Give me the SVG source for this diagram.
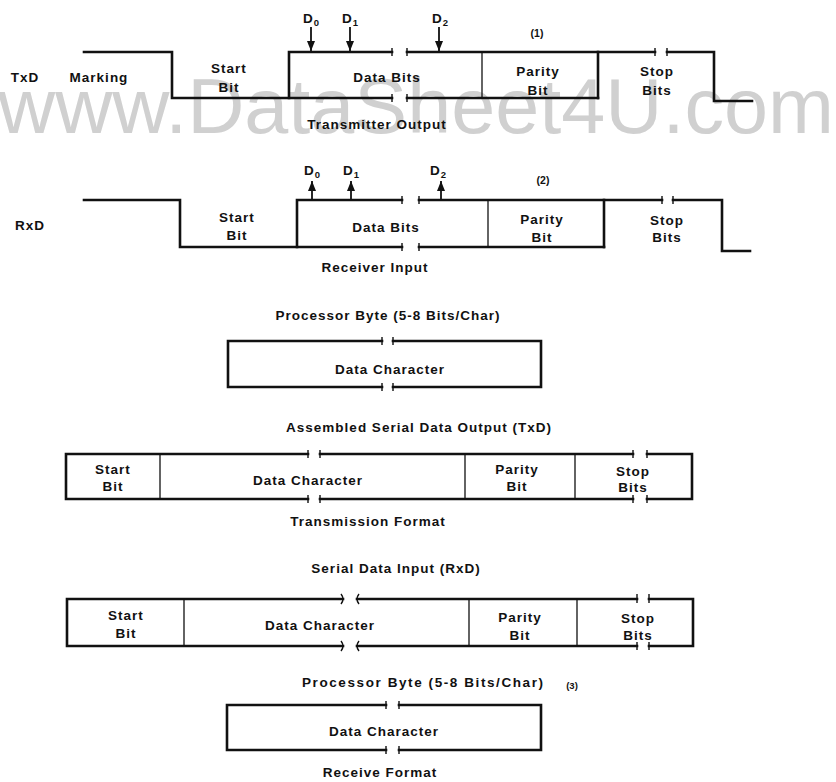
<svg xmlns="http://www.w3.org/2000/svg" width="836" height="782" viewBox="0 0 836 782">
<defs>
<style>
.t{font-family:"Liberation Sans",Arial,Helvetica,sans-serif;font-weight:bold;font-size:13.5px;letter-spacing:1px;fill:#111;text-anchor:middle}
.s{font-size:9.5px;letter-spacing:0}
.w{fill:none;stroke:#111;stroke-width:2.6;stroke-linejoin:miter;stroke-linecap:square}
.thin{fill:none;stroke:#111;stroke-width:1.3}
.tk{fill:none;stroke:#111;stroke-width:1.4}
.ar{fill:none;stroke:#111;stroke-width:1.8}
.wm{font-family:"Liberation Sans",Arial,sans-serif;font-size:78px;fill:#d0d0d0}
</style>
<marker id="ah" viewBox="0 0 10 8" refX="10" refY="4" markerWidth="5.6" markerHeight="4.5" orient="auto" markerUnits="strokeWidth">
<path d="M0,0 L10,4 L0,8 Z" fill="#111"/>
</marker>
</defs>
<rect width="836" height="782" fill="#fff"/>
<text class="wm" x="-2" y="133" textLength="836" lengthAdjust="spacingAndGlyphs">www.DataSheet4U.com</text>

<g id="txd-waveform">
<path class="w" d="M84,52 H172 V98 H392"/>
<path class="w" d="M407,98 H598"/>
<path class="w" d="M289,98 V52 H392"/>
<path class="w" d="M407,52 H655"/>
<path class="w" d="M667,52 H714 V101 H752"/>
<path class="w" d="M598,52 V98"/>
<path class="thin" d="M482,52 V98"/>
<path class="tk" d="M392,48 V56 M407,48 V56 M392,94 V102 M407,94 V102 M655,48 V56 M667,48 V56"/>
<text class="t" x="25" y="82">TxD</text>
<text class="t" x="99" y="82">Marking</text>
<text class="t" x="229" y="73">Start</text>
<text class="t" x="229" y="92">Bit</text>
<text class="t" x="387" y="82">Data Bits</text>
<text class="t" x="538" y="76">Parity</text>
<text class="t" x="538" y="95">Bit</text>
<text class="t" x="657" y="76">Stop</text>
<text class="t" x="657" y="95">Bits</text>
<text class="t" x="537" y="37" style="font-size:10.5px;letter-spacing:0">(1)</text>
<text class="t" x="377" y="129">Transmitter Output</text>
<text class="t" x="311" y="23">D<tspan class="s" dy="3">0</tspan></text>
<text class="t" x="350" y="23">D<tspan class="s" dy="3">1</tspan></text>
<text class="t" x="440" y="23">D<tspan class="s" dy="3">2</tspan></text>
</g>

<g id="rxd-waveform">
<path class="w" d="M84,200 H180 V247 H402"/>
<path class="w" d="M419,247 H604"/>
<path class="w" d="M297,247 V200 H402"/>
<path class="w" d="M419,200 H662"/>
<path class="w" d="M673,200 H722 V251 H750"/>
<path class="w" d="M604,200 V247"/>
<path class="thin" d="M488,200 V247"/>
<path class="tk" d="M402,196 V204 M419,196 V204 M402,243 V251 M419,243 V251 M662,196 V204 M673,196 V204"/>
<text class="t" x="30" y="230">RxD</text>
<text class="t" x="237" y="222">Start</text>
<text class="t" x="237" y="240">Bit</text>
<text class="t" x="386" y="232">Data Bits</text>
<text class="t" x="542" y="224">Parity</text>
<text class="t" x="542" y="242">Bit</text>
<text class="t" x="667" y="225">Stop</text>
<text class="t" x="667" y="242">Bits</text>
<text class="t" x="543" y="184" style="font-size:10.5px;letter-spacing:0">(2)</text>
<text class="t" x="375" y="272">Receiver Input</text>
<text class="t" x="312" y="175">D<tspan class="s" dy="3">0</tspan></text>
<text class="t" x="351" y="175">D<tspan class="s" dy="3">1</tspan></text>
<text class="t" x="438" y="175">D<tspan class="s" dy="3">2</tspan></text>
</g>

<g id="connectors">
<line class="ar" x1="311" y1="27" x2="311" y2="51" marker-end="url(#ah)"/>
<line class="ar" x1="350" y1="27" x2="350" y2="51" marker-end="url(#ah)"/>
<line class="ar" x1="439" y1="27" x2="439" y2="51" marker-end="url(#ah)"/>
<line class="ar" x1="312" y1="199" x2="312" y2="181" marker-end="url(#ah)"/>
<line class="ar" x1="351" y1="199" x2="351" y2="181" marker-end="url(#ah)"/>
<line class="ar" x1="441" y1="199" x2="441" y2="181" marker-end="url(#ah)"/>
</g>

<g id="processor-byte-tx">
<text class="t" x="388" y="320">Processor Byte  (5-8 Bits/Char)</text>
<path class="w" d="M382,341 H228 V387 H382"/>
<path class="w" d="M393,341 H541 V387 H393"/>
<path class="tk" d="M382,337 V345 M393,337 V345 M382,383 V391 M393,383 V391"/>
<text class="t" x="390" y="374">Data Character</text>
</g>

<g id="transmission-format">
<text class="t" x="419" y="432">Assembled Serial Data Output (TxD)</text>
<path class="w" d="M308,454 H66 V499 H308"/>
<path class="w" d="M320,454 H633 M647,454 H692 V499 H647 M633,499 H320"/>
<path class="thin" d="M160,454 V499 M465,454 V499 M575,454 V499"/>
<path class="tk" d="M308,450 V458 M320,450 V458 M308,495 V503 M320,495 V503 M633,450 V458 M647,450 V458 M633,495 V503 M647,495 V503"/>
<text class="t" x="113" y="474">Start</text>
<text class="t" x="113" y="491">Bit</text>
<text class="t" x="308" y="485">Data Character</text>
<text class="t" x="517" y="474">Parity</text>
<text class="t" x="517" y="491">Bit</text>
<text class="t" x="633" y="476">Stop</text>
<text class="t" x="633" y="492">Bits</text>
<text class="t" x="368" y="526">Transmission Format</text>
</g>

<g id="receive-serial">
<text class="t" x="396" y="573">Serial Data Input (RxD)</text>
<path class="w" d="M343,599 H67 V646 H343"/>
<path class="w" d="M357,599 H637 M649,599 H693 V646 H649 M637,646 H357"/>
<path class="thin" d="M184,599 V646 M469,599 V646 M577,599 V646"/>
<path class="tk" d="M341,594 Q345,599 341,604 M359,594 Q355,599 359,604 M341,641 Q345,646 341,651 M359,641 Q355,646 359,651 M637,594 V603 M649,594 V603 M637,642 V650 M649,642 V650"/>
<text class="t" x="126" y="620">Start</text>
<text class="t" x="126" y="638">Bit</text>
<text class="t" x="320" y="630">Data Character</text>
<text class="t" x="520" y="622">Parity</text>
<text class="t" x="520" y="640">Bit</text>
<text class="t" x="638" y="623">Stop</text>
<text class="t" x="638" y="640">Bits</text>
</g>

<g id="processor-byte-rx">
<text class="t" x="302" y="687" style="text-anchor:start" textLength="242" lengthAdjust="spacing">Processor Byte (5-8 Bits/Char)</text>
<text class="t" x="572" y="689" style="font-size:9.5px;letter-spacing:0">(3)</text>
<path class="w" d="M386,705 H227 V750 H386"/>
<path class="w" d="M399,705 H541 V750 H399"/>
<path class="tk" d="M386,701 V709 M399,701 V709 M386,746 V754 M399,746 V754"/>
<text class="t" x="384" y="736">Data Character</text>
<text class="t" x="380" y="777">Receive Format</text>
</g>
</svg>
